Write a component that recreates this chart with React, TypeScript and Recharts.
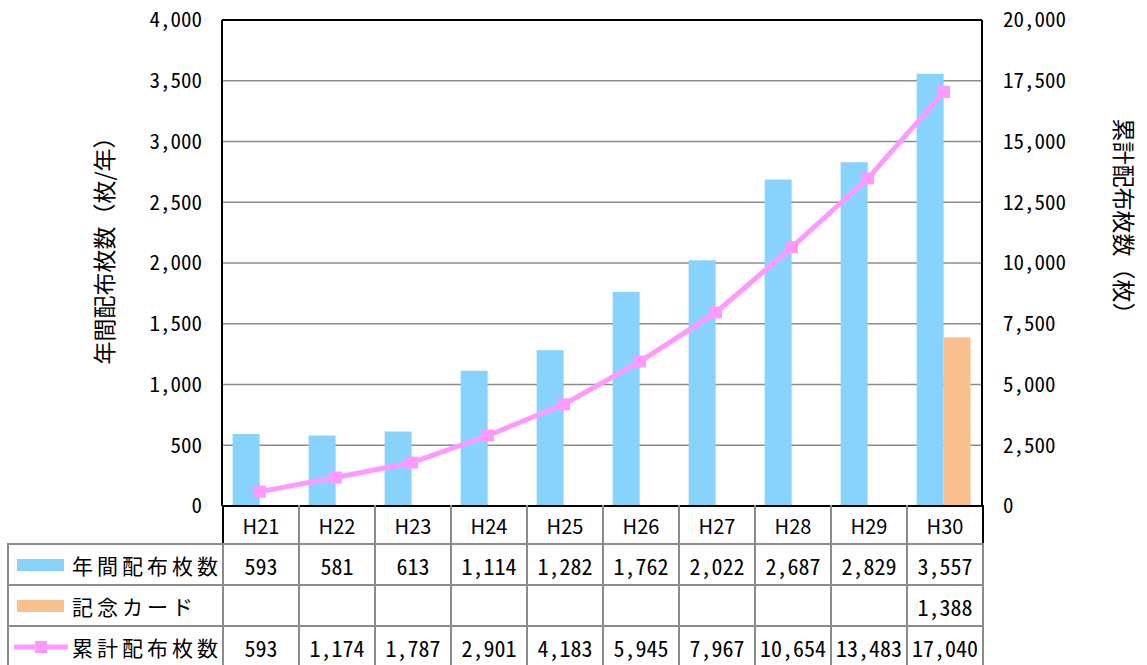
import React from "react";
import { Bar, CartesianGrid, ComposedChart, Line, ReferenceLine, XAxis, YAxis } from "recharts";

const years = ["H21", "H22", "H23", "H24", "H25", "H26", "H27", "H28", "H29", "H30"];
const annual = [593, 581, 613, 1114, 1282, 1762, 2022, 2687, 2829, 3557];
const memorial: (number | null)[] = [null, null, null, null, null, null, null, null, null, 1388];
const cumulative = [593, 1174, 1787, 2901, 4183, 5945, 7967, 10654, 13483, 17040];
const leftTicks = [0, 500, 1000, 1500, 2000, 2500, 3000, 3500, 4000];
const rightTicks = [0, 2500, 5000, 7500, 10000, 12500, 15000, 17500, 20000];

const BLUE = "#87D3FB";
const ORANGE = "#FAC090";
const PINK = "#FF99FF";
const GRID = "#8C8C8C";
const MONO = "'Noto Sans Mono CJK JP', 'Noto Sans CJK JP', sans-serif";
const JP = "'Noto Sans CJK JP', sans-serif";

const data = years.map((y, i) => ({
  year: y,
  annual: annual[i],
  memorial: memorial[i],
  cumulative: cumulative[i],
}));

const fmt = (v: number) => v.toLocaleString("en-US");

const SquareDot = (props: any) => {
  const { cx, cy } = props;
  if (cx == null || cy == null) return null;
  return <rect x={cx - 6} y={cy - 6} width={12} height={12} fill={PINK} />;
};

const rows = [
  { name: "年間配布枚数", values: annual as (number | null)[], kind: "blue" },
  { name: "記念カード", values: memorial, kind: "orange" },
  { name: "累計配布枚数", values: cumulative as (number | null)[], kind: "line" },
];

function Swatch({ kind }: { kind: string }) {
  return (
    <svg width={54} height={20} style={{ display: "block" }}>
      {kind === "blue" && <rect x={3} y={4} width={47} height={12} fill={BLUE} />}
      {kind === "orange" && <rect x={3} y={4} width={47} height={12} fill={ORANGE} />}
      {kind === "line" && (
        <g>
          <line x1={2} y1={10} x2={52} y2={10} stroke={PINK} strokeWidth={5} strokeLinecap="round" />
          <rect x={21} y={4} width={12} height={12} fill={PINK} />
        </g>
      )}
    </svg>
  );
}

const cellBorder = `2px solid ${GRID}`;

export default function App() {
  return (
    <div style={{ position: "absolute", left: 0, top: 0, width: 1147, height: 665, background: "#fff", overflow: "hidden" }}>
      <ComposedChart
        width={1147}
        height={665}
        data={data}
        margin={{ top: 20, right: 45, left: 102, bottom: 159 }}
        barCategoryGap="14%"
        barGap={0}
      >
        <CartesianGrid vertical={false} stroke={GRID} strokeWidth={1.5} yAxisId="left" />
        <XAxis dataKey="year" hide height={0} />
        <YAxis
          yAxisId="left"
          domain={[0, 4000]}
          ticks={leftTicks}
          width={120}
          tickLine={false}
          axisLine={{ stroke: "#000", strokeWidth: 2 }}
          tickMargin={14}
          tickFormatter={fmt}
          tick={{ fill: "#000", fontSize: 21, fontFamily: MONO }}
          label={{
            content: () => (
              <text x={103} y={245} transform="rotate(-90 103 245)" textAnchor="middle" dominantBaseline="central" fontSize={23} fontFamily={JP} fill="#000">
                年間配布枚数（枚/年）
              </text>
            ),
          }}
        />
        <YAxis
          yAxisId="right"
          orientation="right"
          domain={[0, 20000]}
          ticks={rightTicks}
          width={120}
          tickLine={false}
          axisLine={{ stroke: "#000", strokeWidth: 2 }}
          tickMargin={15}
          tickFormatter={fmt}
          tick={{ fill: "#000", fontSize: 21, fontFamily: MONO, textAnchor: "start" }}
          label={{
            content: () => (
              <text x={1125} y={222} transform="rotate(90 1125 222)" textAnchor="middle" dominantBaseline="central" fontSize={23} fontFamily={JP} fill="#000">
                累計配布枚数（枚）
              </text>
            ),
          }}
        />
        <ReferenceLine yAxisId="left" y={4000} stroke="#000" strokeWidth={2} />
        <Bar yAxisId="left" dataKey="annual" fill={BLUE} isAnimationActive={false} />
        <Bar yAxisId="left" dataKey="memorial" fill={ORANGE} isAnimationActive={false} />
        <Line
          yAxisId="right"
          dataKey="cumulative"
          stroke={PINK}
          strokeWidth={5}
          dot={<SquareDot />}
          activeDot={false}
          isAnimationActive={false}
        />
      </ComposedChart>

      <table
        style={{
          position: "absolute",
          left: 7,
          top: 505,
          borderCollapse: "collapse",
          tableLayout: "fixed",
          width: 215 + 76 * 10,
          fontFamily: MONO,
          color: "#000",
        }}
      >
        <colgroup>
          <col style={{ width: 215 }} />
          {years.map((y) => (
            <col key={y} style={{ width: 76 }} />
          ))}
        </colgroup>
        <tbody>
          <tr style={{ height: 38 }}>
            <td style={{ border: "none", padding: 0 }} />
            {years.map((y, i) => (
              <td
                key={y}
                style={{
                  borderLeft: i === 0 ? "2px solid #000" : cellBorder,
                  borderRight: i === years.length - 1 ? "2px solid #000" : cellBorder,
                  borderTop: "2px solid #000",
                  borderBottom: cellBorder,
                  textAlign: "center",
                  fontSize: 20,
                  fontFamily: JP,
                  fontWeight: 400,
                  padding: 0,
                }}
              >
                {y}
              </td>
            ))}
          </tr>
          {rows.map((r) => (
            <tr key={r.name} style={{ height: 41 }}>
              <td style={{ border: cellBorder, padding: 0 }}>
                <div style={{ display: "flex", alignItems: "center", height: 39 }}>
                  <div style={{ marginLeft: 5, marginRight: 4 }}>
                    <Swatch kind={r.kind} />
                  </div>
                  <span style={{ fontFamily: JP, fontSize: 21, letterSpacing: 4, whiteSpace: "nowrap" }}>{r.name}</span>
                </div>
              </td>
              {r.values.map((v, i) => (
                <td
                  key={i}
                  style={{
                    border: cellBorder,
                    textAlign: "center",
                    fontSize: 22,
                    padding: 0,
                    whiteSpace: "nowrap",
                    overflow: "hidden",
                    letterSpacing: 0,
                  }}
                >
                  {v == null ? "" : fmt(v)}
                </td>
              ))}
            </tr>
          ))}
        </tbody>
      </table>
    </div>
  );
}
